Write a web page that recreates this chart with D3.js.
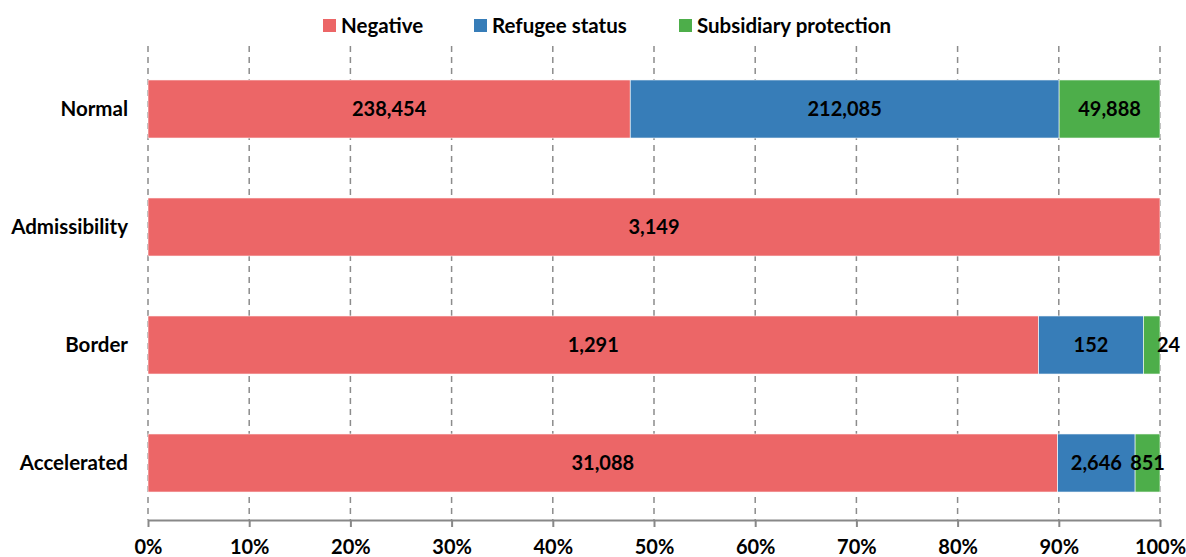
<!DOCTYPE html>
<html>
<head>
<meta charset="utf-8">
<script src="https://cdn.jsdelivr.net/npm/d3@7"></script>
<style>
  body { margin: 0; background: #fff; }
  text { font-family: Lato, "Open Sans", "Liberation Sans", sans-serif; font-weight: bold; fill: #000; }
</style>
</head>
<body>
<svg id="chart" width="1186" height="557"></svg>
<script>
// Decisions by procedure type
const categories = ["Normal", "Admissibility", "Border", "Accelerated"];
const seriesNames = ["Negative", "Refugee status", "Subsidiary protection"];
const negative = [238454, 3149, 1291, 31088];
const refugee = [212085, 0, 152, 2646];
const subsidiary = [49888, 0, 24, 851];
const tickValues = [0, 0.1, 0.2, 0.3, 0.4, 0.5, 0.6, 0.7, 0.8, 0.9, 1.0];
const colors = ["#EC6667", "#377DB8", "#4DAE4A"];

const seriesValues = [negative, refugee, subsidiary];
const rows = categories.map((c, i) => {
  const r = { category: c };
  seriesNames.forEach((s, j) => r[s] = seriesValues[j][i]);
  r.total = seriesNames.reduce((a, s) => a + r[s], 0);
  return r;
});

const svg = d3.select("#chart");
const x = d3.scaleLinear().domain([0, 1]).range([148, 1160]);
const y = d3.scaleBand().domain(categories).range([50, 522]).paddingInner(0.508).paddingOuter(0.254);

// dashed vertical gridlines
svg.append("g").selectAll("line").data(tickValues).join("line")
  .attr("x1", d => x(d)).attr("x2", d => x(d))
  .attr("y1", 46).attr("y2", 520)
  .attr("stroke", "#8c8c8c").attr("stroke-width", 1.5)
  .attr("stroke-dasharray", "6,5");

const stack = d3.stack().keys(seriesNames)
  .value((d, k) => d[k] / d.total);
const layers = stack(rows);

const g = svg.append("g");
layers.forEach((layer, li) => {
  g.append("g").selectAll("rect").data(layer.filter(d => d[1] > d[0])).join("rect")
    .attr("x", d => x(d[0]))
    .attr("width", d => x(d[1]) - x(d[0]))
    .attr("y", d => y(d.data.category))
    .attr("height", y.bandwidth())
    .attr("fill", colors[li])
    .attr("stroke", "#fff").attr("stroke-width", 0.6);
});

// value labels
layers.forEach((layer, li) => {
  g.append("g").selectAll("text").data(layer.filter(d => d[1] > d[0])).join("text")
    .attr("x", d => {
      const w = x(d[1]) - x(d[0]);
      return w < 20 ? x(d[1]) - 3 : (x(d[0]) + x(d[1])) / 2;
    })
    .attr("text-anchor", d => (x(d[1]) - x(d[0]) < 20 ? "start" : "middle"))
    .attr("y", d => y(d.data.category) + y.bandwidth() / 2)
    .attr("dy", "0.36em")
    .attr("font-size", 20)
    .text(d => d3.format(",")(d.data[layer.key]));
});

// x axis
const axis = svg.append("g").attr("transform", "translate(0,520)")
  .call(d3.axisBottom(x).tickValues(tickValues).tickFormat(d3.format(".0%")).tickSize(7).tickSizeOuter(0));
axis.select(".domain").attr("stroke", "#888").attr("stroke-width", 2);
axis.selectAll(".tick line").attr("stroke", "#888").attr("stroke-width", 2);
axis.selectAll(".tick text").attr("font-size", 20).attr("dy", 0).attr("y", 34)
  .style("font-family", "Lato, 'Open Sans', sans-serif").style("font-weight", "bold").attr("fill", "#000");

// category labels
svg.append("g").selectAll("text").data(categories).join("text")
  .attr("x", 128).attr("text-anchor", "end")
  .attr("y", d => y(d) + y.bandwidth() / 2).attr("dy", "0.36em")
  .attr("font-size", 20.5)
  .text(d => d);

// legend
const legendX = [323, 474, 679];
const legend = svg.append("g").selectAll("g").data(seriesNames).join("g")
  .attr("transform", (d, i) => `translate(${legendX[i]},0)`);
legend.append("rect").attr("x", 0).attr("y", 19).attr("width", 13).attr("height", 13)
  .attr("fill", (d, i) => colors[i]);
legend.append("text").attr("x", 18).attr("y", 25.5).attr("dy", "0.36em")
  .attr("font-size", 20.5).text(d => d);
</script>
</body>
</html>
